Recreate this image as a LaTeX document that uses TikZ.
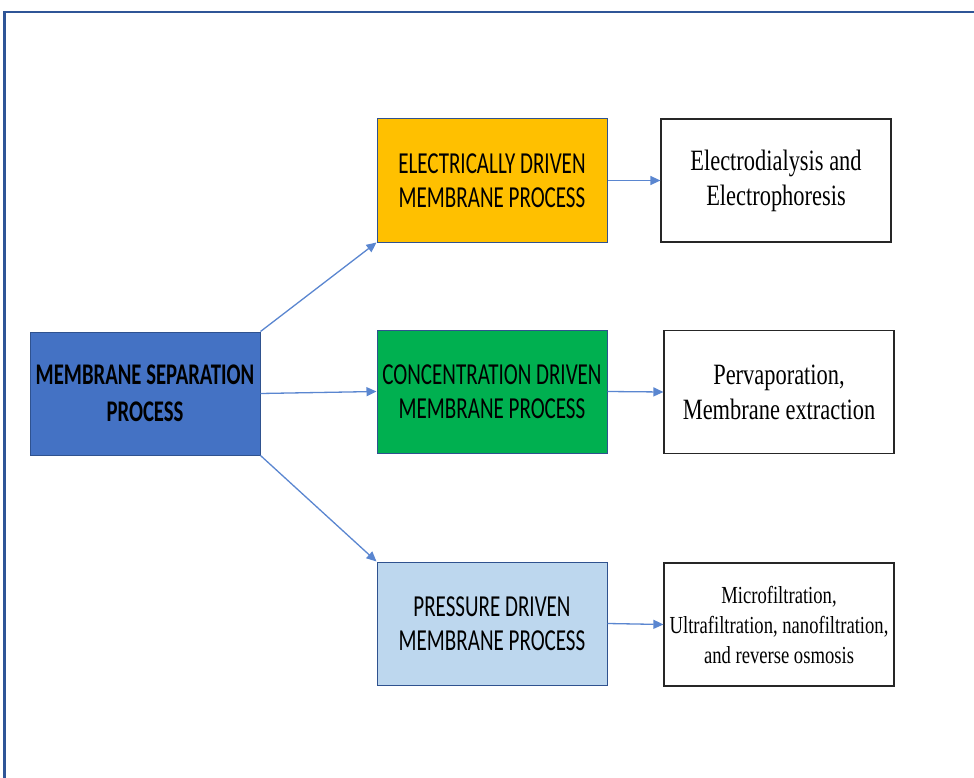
\documentclass[tikz,border=0pt]{standalone}
\usepackage{fontspec}
\setmainfont{Liberation Serif}
\newfontfamily\capsfont[FakeStretch=0.69]{Carlito}
\newfontfamily\resfont[FakeStretch=0.76]{Liberation Serif}
\usetikzlibrary{arrows.meta}
\definecolor{framecol}{HTML}{2F5597}
\definecolor{edgecol}{HTML}{2F528F}
\definecolor{mspfill}{HTML}{4472C4}
\definecolor{elecfill}{HTML}{FFC000}
\definecolor{concfill}{HTML}{00B050}
\definecolor{pressfill}{HTML}{BDD7EE}
\definecolor{linkcol}{HTML}{5A86D0}

\begin{document}
\begin{tikzpicture}[x=1pt,y=-1pt,
  proc/.style={draw=edgecol, line width=1pt, minimum width=230pt, minimum height=123pt,
    inner sep=0pt, align=center, font=\capsfont\fontsize{30.5}{34}\selectfont},
  res/.style={draw=black!85, line width=1.2pt, minimum width=230pt, minimum height=123pt,
    inner sep=0pt, align=center, font=\resfont\fontsize{29.5}{35}\selectfont},
  link/.style={draw=linkcol, line width=1.3pt, -{Triangle[length=10pt,width=9pt]}}]

\useasboundingbox (0,0) rectangle (974,778);
\draw[framecol, line width=2.5pt] (974,12) -- (4.5,12) -- (4.5,778);

\node[proc, fill=mspfill, font=\capsfont\bfseries\fontsize{30}{37}\selectfont] (msp) at (145,393.5)
  {MEMBRANE SEPARATION\\PROCESS};

\node[proc, fill=elecfill] (elec) at (492,180.5) {ELECTRICALLY DRIVEN\\MEMBRANE PROCESS};
\node[proc, fill=concfill] (conc) at (492,391.5) {CONCENTRATION DRIVEN\\MEMBRANE PROCESS};
\node[proc, fill=pressfill] (press) at (492,623.5) {PRESSURE DRIVEN\\MEMBRANE PROCESS};

\node[res] (elecres) at (776,180.5) {Electrodialysis and\\Electrophoresis};
\node[res] (concres) at (779,392) {Pervaporation,\\Membrane extraction};
\node[res, font=\resfont\fontsize{24.5}{30}\selectfont] (pressres) at (779,624.5)
  {Microfiltration,\\Ultrafiltration, nanofiltration,\\and reverse osmosis};

\draw[link] (msp.north east) -- (elec.south west);
\draw[link] (msp.east) -- (conc.west);
\draw[link] (msp.south east) -- (press.north west);

\draw[link] (elec.east) -- (elecres.west);
\draw[link] (conc.east) -- (concres.west);
\draw[link] (press.east) -- (pressres.west);

\end{tikzpicture}
\end{document}
